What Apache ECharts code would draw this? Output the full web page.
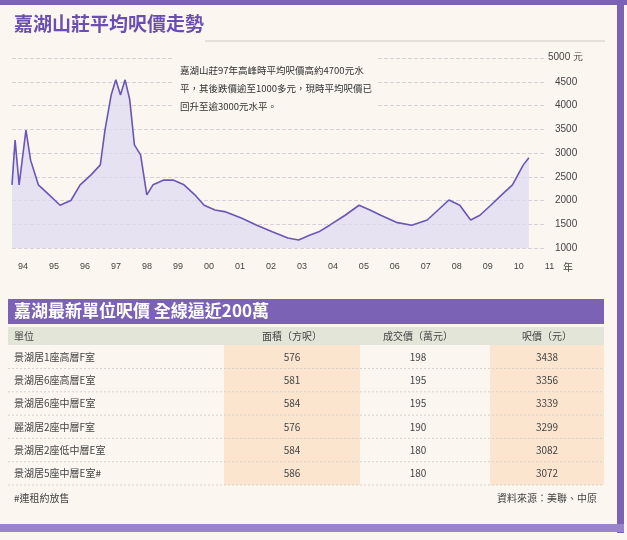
<!DOCTYPE html>
<html><head><meta charset="utf-8">
<script src="https://cdn.jsdelivr.net/npm/echarts@6/dist/echarts.min.js"></script>
<style>html,body{margin:0;padding:0;background:#fbf6f0}#c{width:627px;height:540px}</style>
</head><body><div id="c"></div>
<script>
// price per sq ft trend (year, HK$)
var years = [1994.0,1994.1,1994.23,1994.45,1994.6,1994.85,1995.2,1995.55,1995.9,1996.2,1996.55,1996.85,1997.0,1997.2,1997.35,1997.5,1997.65,1997.8,1997.95,1998.15,1998.35,1998.55,1998.9,1999.2,1999.55,1999.9,2000.2,2000.55,2000.9,2001.4,2001.9,2002.4,2002.9,2003.25,2003.6,2003.9,2004.25,2004.75,2005.2,2005.55,2005.9,2006.4,2006.9,2007.4,2007.75,2008.1,2008.45,2008.8,2009.1,2009.45,2009.8,2010.15,2010.5,2010.68];
var prices = [2330,3270,2330,3480,2850,2330,2120,1900,2000,2330,2540,2750,3480,4220,4540,4220,4540,4120,3170,2960,2120,2330,2430,2430,2330,2120,1900,1800,1760,1630,1480,1340,1210,1170,1270,1340,1480,1690,1900,1800,1690,1540,1480,1590,1800,2010,1900,1590,1690,1900,2120,2330,2750,2900];
var yearTicks = ['94','95','96','97','98','99','00','01','02','03','04','05','06','07','08','09','10','11'];

var tableTitle = '嘉湖最新單位呎價 全線逼近200萬';
var headers = ['單位', '面積（方呎）', '成交價（萬元）', '呎價（元）'];
var units = ['景湖居1座高層F室','景湖居6座高層E室','景湖居6座中層E室','麗湖居2座中層F室','景湖居2座低中層E室','景湖居5座中層E室#'];
var areas = [576, 581, 584, 576, 584, 586];
var deals = [198, 195, 195, 190, 180, 180];
var psf = [3438, 3356, 3339, 3299, 3082, 3072];

var purple = '#7b62b5';
var g = [];
// frame
g.push({type:'rect',shape:{x:0,y:0,width:627,height:5},style:{fill:purple}});
g.push({type:'rect',shape:{x:617,y:0,width:7,height:533},style:{fill:purple}});
g.push({type:'rect',shape:{x:0,y:524,width:624,height:8},style:{fill:'#9a84cc'}});
g.push({type:'text',x:14,y:14,style:{text:'嘉湖山莊平均呎價走勢',fill:'#6a4fb0',font:'bold 19px "Noto Sans CJK TC"'}});
g.push({type:'line',shape:{x1:205,y1:41,x2:605,y2:41},style:{stroke:'#cfcac4',lineWidth:1}});
// annotation
g.push({type:'rect',shape:{x:172,y:58,width:205,height:64},style:{fill:'#fbf6f0'},z:10});
g.push({type:'text',x:180,y:61,z:11,style:{text:'嘉湖山莊97年高峰時平均呎價高約4700元水\n平，其後跌價逾至1000多元，現時平均呎價已\n回升至逾3000元水平。',fill:'#333',font:'9.5px "Noto Sans CJK TC"',lineHeight:18}});
g.push({type:'text',x:548,y:52,style:{text:'5000 元',fill:'#444',font:'10px "Liberation Sans"'}});
g.push({type:'text',x:563,y:262,style:{text:'年',fill:'#444',font:'10px "Noto Sans CJK TC"'}});
// table
g.push({type:'rect',shape:{x:8,y:299,width:596,height:25},style:{fill:purple}});
g.push({type:'text',x:14,y:302,style:{text:tableTitle,fill:'#fff',font:'bold 17px "Noto Sans CJK TC"'}});
g.push({type:'rect',shape:{x:8,y:327,width:596,height:18},style:{fill:'#e3e5d8'}});
g.push({type:'rect',shape:{x:224,y:345,width:136,height:140},style:{fill:'#fbe5cf'}});
g.push({type:'rect',shape:{x:490,y:345,width:114,height:140},style:{fill:'#fbe5cf'}});
var cx = [14, 292, 418, 547];
headers.forEach(function (h, i) {
  g.push({type:'text',x:cx[i],y:336,style:{text:h,fill:'#444',font:'10px "Noto Sans CJK TC"',align:i?'center':'left',verticalAlign:'middle'}});
});
units.forEach(function (u, r) {
  var y = 357 + r * 23.3;
  [u, areas[r], deals[r], psf[r]].forEach(function (v, i) {
    g.push({type:'text',x:cx[i],y:y,style:{text:String(v),fill:'#444',font:'10px "Noto Sans CJK TC"',align:i?'center':'left',verticalAlign:'middle'}});
  });
  g.push({type:'line',shape:{x1:8,y1:y+11.5,x2:604,y2:y+11.5},style:{stroke:'#d8d2cc',lineDash:[2,2]}});
});
g.push({type:'text',x:14,y:498,style:{text:'#連租約放售',fill:'#444',font:'10px "Noto Sans CJK TC"',verticalAlign:'middle'}});
g.push({type:'text',x:547,y:498,style:{text:'資料來源：美聯、中原',fill:'#444',font:'10px "Noto Sans CJK TC"',align:'center',verticalAlign:'middle'}});

var chart = echarts.init(document.getElementById('c'));
chart.setOption({
  backgroundColor: '#fbf6f0',
  animation: false,
  grid: {left: 12, right: 82, top: 58, bottom: 292},
  xAxis: {
    type: 'value', min: 1994, max: 2011.2, interval: 1,
    axisLine: {show: false}, axisTick: {show: false}, splitLine: {show: false},
    axisLabel: {
      color: '#444', fontSize: 9, margin: 14, align: 'left', padding: [0, 0, 0, 6],
      formatter: function (v) { return v <= 2011 ? yearTicks[v - 1994] : ''; }
    }
  },
  yAxis: {
    type: 'value', min: 1000, max: 5000, interval: 500, position: 'right',
    axisLine: {show: false}, axisTick: {show: false},
    axisLabel: {color: '#444', fontSize: 10, margin: 10, fontFamily: 'Liberation Sans',
      formatter: function (v) { return v === 5000 ? '' : v; }},
    splitLine: {lineStyle: {color: '#d6d2d8', type: 'dashed'}}
  },
  series: [{
    type: 'line', symbol: 'none',
    data: years.map(function (y, i) { return [y, prices[i]]; }),
    lineStyle: {color: '#6a56b6', width: 1.6},
    areaStyle: {color: '#dedaf2', origin: 'start'}
  }],
  graphic: g
});
</script>
</body></html>
